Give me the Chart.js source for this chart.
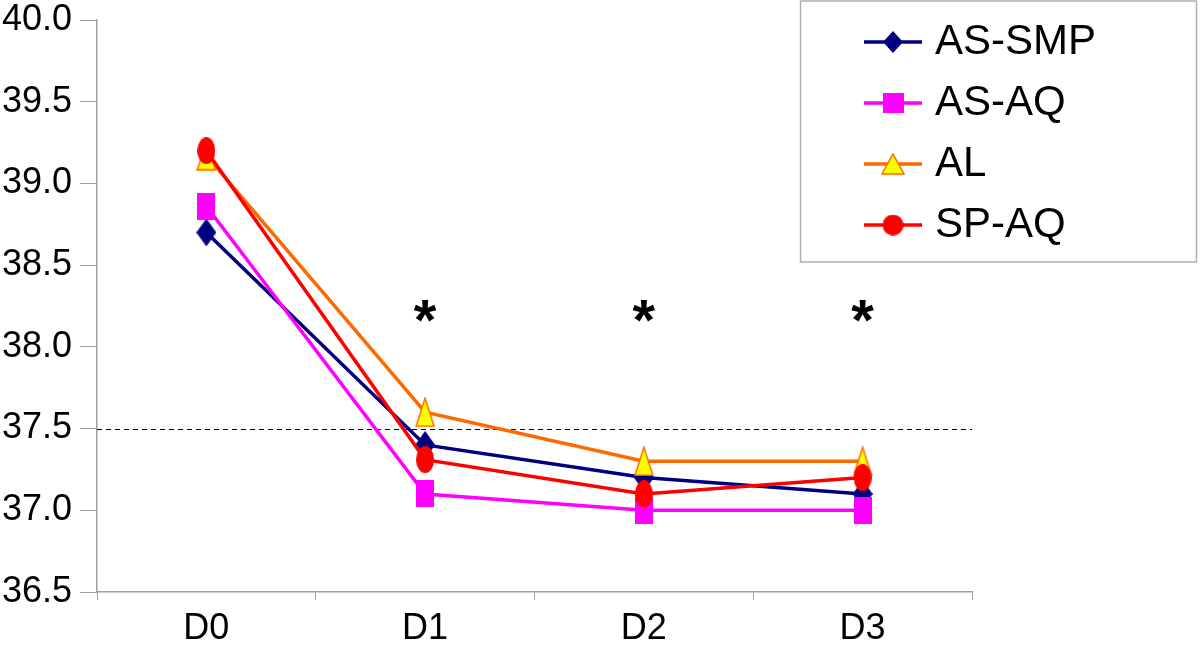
<!DOCTYPE html>
<html>
<head>
<meta charset="utf-8">
<script src="https://cdn.jsdelivr.net/npm/chart.js@4/dist/chart.umd.min.js"></script>
<style>
  html, body { margin: 0; padding: 0; background: #fff; }
  #wrap { width: 1200px; height: 650px; }
</style>
</head>
<body>
<div id="wrap"><canvas id="myChart"></canvas></div>
<script>
const days = ['D0', 'D1', 'D2', 'D3'];
const asSmp = [38.7, 37.4, 37.2, 37.1];
const asAq = [38.86, 37.1, 37.0, 37.0];
const al = [39.17, 37.6, 37.3, 37.3];
const spAq = [39.2, 37.31, 37.1, 37.2];
const yTicks = [36.5, 37.0, 37.5, 38.0, 38.5, 39.0, 39.5, 40.0];
const refLine = 37.5;
const starDays = ['D1', 'D2', 'D3'];
const starLevel = 38.22;

// marker pictures (the original markers are a bit taller than wide)
function marker(kind, w, h, fill, stroke) {
  const c = document.createElement('canvas');
  c.width = w; c.height = h;
  const ctx = c.getContext('2d');
  ctx.fillStyle = fill;
  ctx.beginPath();
  if (kind === 'diamond') {
    ctx.moveTo(w / 2, 0); ctx.lineTo(w, h / 2); ctx.lineTo(w / 2, h); ctx.lineTo(0, h / 2);
  } else if (kind === 'square') {
    ctx.rect(0, 0, w, h);
  } else if (kind === 'triangle') {
    ctx.moveTo(w / 2, 1); ctx.lineTo(w - 1, h - 1); ctx.lineTo(1, h - 1);
  } else {
    ctx.ellipse(w / 2, h / 2, w / 2, h / 2, 0, 0, Math.PI * 2);
  }
  ctx.closePath();
  ctx.fill();
  if (stroke) {
    ctx.strokeStyle = stroke;
    ctx.lineWidth = 1.5;
    ctx.stroke();
  }
  return c;
}

const series = [
  { label: 'AS-SMP', data: asSmp, color: '#000080',
    pt: marker('diamond', 20, 28, '#000080'), lg: marker('diamond', 20, 22, '#000080') },
  { label: 'AS-AQ', data: asAq, color: '#ff00ff',
    pt: marker('square', 18, 27, '#ff00ff'), lg: marker('square', 21, 20, '#ff00ff') },
  { label: 'AL', data: al, color: '#ff6a00',
    pt: marker('triangle', 20, 30, '#ffff00', '#ff6a00'), lg: marker('triangle', 24, 22, '#ffff00', '#ff6a00') },
  { label: 'SP-AQ', data: spAq, color: '#ff0000',
    pt: marker('circle', 18, 27, '#ff0000'), lg: marker('circle', 21, 21, '#ff0000') }
];

const extras = {
  id: 'extras',
  beforeDatasetsDraw(chart) {
    const { ctx, chartArea, scales } = chart;
    const y = Math.round(scales.y.getPixelForValue(refLine)) + 0.5;
    ctx.save();
    ctx.strokeStyle = '#000';
    ctx.lineWidth = 1.2;
    ctx.setLineDash([5, 4]);
    ctx.beginPath();
    ctx.moveTo(chartArea.left, y);
    ctx.lineTo(chartArea.right, y);
    ctx.stroke();
    ctx.restore();
  },
  afterDraw(chart) {
    const { ctx, scales } = chart;
    ctx.save();
    // asterisks
    ctx.fillStyle = '#000';
    ctx.font = 'bold 58px "Liberation Sans", Arial, sans-serif';
    ctx.textAlign = 'center';
    ctx.textBaseline = 'alphabetic';
    const m = ctx.measureText('*');
    const mid = (m.actualBoundingBoxAscent - m.actualBoundingBoxDescent) / 2;
    starDays.forEach(d => {
      const x = scales.x.getPixelForValue(days.indexOf(d));
      const y = scales.y.getPixelForValue(starLevel);
      ctx.fillText('*', x, y + mid);
    });
    // legend box
    ctx.fillStyle = '#fff';
    ctx.fillRect(800, 0, 397, 262);
    ctx.strokeStyle = '#b0b0b0';
    ctx.lineWidth = 1.5;
    ctx.setLineDash([]);
    ctx.strokeRect(800.5, 1, 396, 261);
    ctx.font = '42px "Liberation Sans", Arial, sans-serif';
    ctx.textAlign = 'left';
    series.forEach((s, i) => {
      const ry = 42 + i * 61;
      ctx.strokeStyle = s.color;
      ctx.lineWidth = 3.5;
      ctx.beginPath();
      ctx.moveTo(864, ry);
      ctx.lineTo(922, ry);
      ctx.stroke();
      ctx.drawImage(s.lg, 893 - s.lg.width / 2, ry - s.lg.height / 2);
      ctx.fillStyle = '#000';
      ctx.fillText(s.label, 935, ry + 12);
    });
    ctx.restore();
  }
};

new Chart(document.getElementById('myChart'), {
  type: 'line',
  data: {
    labels: days,
    datasets: series.map((s, i) => ({
      label: s.label,
      data: s.data,
      borderColor: s.color,
      backgroundColor: s.color,
      borderWidth: 3.5,
      pointStyle: s.pt,
      pointRadius: 10,
      tension: 0,
      fill: false,
      order: series.length - i
    }))
  },
  options: {
    responsive: true,
    maintainAspectRatio: false,
    animation: false,
    layout: { padding: { top: 20, right: 228, left: 0, bottom: 0 } },
    plugins: {
      legend: { display: false },
      tooltip: { enabled: false }
    },
    scales: {
      x: {
        offset: true,
        grid: { display: true, drawOnChartArea: false, offset: true, tickLength: 8, color: '#a0a0a0' },
        border: { color: '#a0a0a0', width: 1.5 },
        ticks: { color: '#000', padding: 7, font: { size: 36, family: '"Liberation Sans", Arial, sans-serif' } },
        afterFit(scale) { scale.height = 58; }
      },
      y: {
        min: 36.5,
        max: 40,
        afterBuildTicks(scale) { scale.ticks = yTicks.map(v => ({ value: v })); },
        grid: { display: true, drawOnChartArea: false, tickLength: 17, color: '#a0a0a0' },
        border: { color: '#a0a0a0', width: 1.5 },
        ticks: {
          color: '#000',
          padding: 8,
          font: { size: 36, family: '"Liberation Sans", Arial, sans-serif' },
          callback: v => Number(v).toFixed(1)
        },
        afterFit(scale) {
          scale.width = 97;
          scale.paddingTop = 0;
          scale.paddingBottom = 0;
        }
      }
    }
  },
  plugins: [extras]
});
</script>
</body>
</html>
